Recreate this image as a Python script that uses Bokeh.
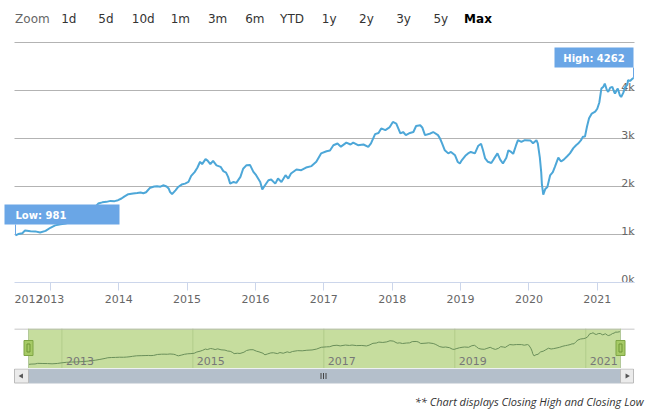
from bokeh.plotting import figure
from bokeh.models import Range1d, FixedTicker
from bokeh.layouts import column
from bokeh.embed import file_html
from bokeh.resources import INLINE
from bokeh.core.properties import value

# ---------------- data ----------------
years = [
    2012.49, 2012.53, 2012.59, 2012.63, 2012.71, 2012.78, 2012.85, 2012.93,
    2013.00, 2013.07, 2013.15, 2013.22, 2013.29, 2013.37, 2013.44, 2013.51,
    2013.58, 2013.66, 2013.70, 2013.76, 2013.82, 2013.88, 2013.94, 2013.99,
    2014.04, 2014.08, 2014.14, 2014.21, 2014.27, 2014.32, 2014.36, 2014.40,
    2014.46, 2014.52, 2014.56, 2014.61, 2014.65, 2014.70, 2014.73, 2014.75,
    2014.78, 2014.83, 2014.87, 2014.92, 2014.97, 2015.02, 2015.06, 2015.11,
    2015.15, 2015.19, 2015.22, 2015.27, 2015.30, 2015.34, 2015.38, 2015.43,
    2015.49, 2015.53, 2015.57, 2015.60, 2015.63, 2015.68, 2015.72, 2015.78,
    2015.82, 2015.87, 2015.92, 2015.97, 2016.01, 2016.07, 2016.10, 2016.14,
    2016.19, 2016.23, 2016.29, 2016.33, 2016.38, 2016.44, 2016.48, 2016.52,
    2016.60, 2016.67, 2016.74, 2016.82, 2016.89, 2016.96, 2017.04, 2017.09,
    2017.14, 2017.20, 2017.25, 2017.33, 2017.39, 2017.43, 2017.50, 2017.58,
    2017.65, 2017.69, 2017.75, 2017.80, 2017.84, 2017.90, 2017.96, 2018.01,
    2018.06, 2018.12, 2018.16, 2018.20, 2018.26, 2018.31, 2018.35, 2018.41,
    2018.44, 2018.48, 2018.56, 2018.60, 2018.67, 2018.70, 2018.73, 2018.77,
    2018.82, 2018.86, 2018.92, 2018.96, 2018.99, 2019.02, 2019.07, 2019.11,
    2019.15, 2019.21, 2019.26, 2019.30, 2019.33, 2019.36, 2019.40, 2019.45,
    2019.49, 2019.54, 2019.58, 2019.62, 2019.67, 2019.70, 2019.74, 2019.77,
    2019.81, 2019.84, 2019.89, 2019.94, 2020.02, 2020.06, 2020.11, 2020.13,
    2020.16, 2020.18, 2020.19, 2020.21, 2020.24, 2020.27, 2020.31, 2020.35,
    2020.38, 2020.43, 2020.47, 2020.51, 2020.56, 2020.60, 2020.65, 2020.69,
    2020.72, 2020.76, 2020.79, 2020.82, 2020.85, 2020.88, 2020.92, 2020.97,
    2021.00, 2021.03, 2021.06, 2021.09, 2021.11, 2021.14, 2021.16, 2021.19,
    2021.22, 2021.25, 2021.26, 2021.29, 2021.30, 2021.33, 2021.35, 2021.38,
    2021.41, 2021.44, 2021.45, 2021.48, 2021.51, 2021.53,
]
close = [
    981, 1010, 1025, 1085, 1070, 1065, 1040, 1075,
    1140, 1190, 1215, 1230, 1255, 1290, 1340, 1400,
    1480, 1580, 1645, 1670, 1680, 1700, 1695, 1715,
    1750, 1790, 1840, 1855, 1865, 1875, 1860, 1880,
    1975, 2000, 2005, 1995, 2025, 2000, 1960, 1890,
    1840, 1920, 1990, 2040, 2060, 2095, 2220, 2300,
    2390, 2515, 2465, 2570, 2540, 2465, 2535, 2440,
    2410, 2320, 2290, 2200, 2060, 2095, 2075, 2200,
    2370, 2445, 2450, 2305, 2235, 2095, 1940, 2025,
    2130, 2145, 2060, 2165, 2095, 2235, 2165, 2270,
    2355, 2340, 2395, 2425, 2515, 2690, 2735, 2750,
    2860, 2895, 2830, 2915, 2875, 2915, 2860, 2875,
    2825, 2900, 3090, 3115, 3210, 3175, 3230, 3345,
    3310, 3105, 3135, 3070, 3115, 3135, 3260, 3275,
    3230, 3070, 3105, 3135, 3070, 3000, 2900, 2755,
    2690, 2720, 2650, 2510, 2480, 2550, 2640, 2690,
    2720, 2690, 2850, 2890, 2750, 2585, 2515, 2490,
    2580, 2690, 2560, 2480, 2600, 2755, 2720, 2680,
    2850, 2965, 2930, 2965, 2960, 2900, 2965, 2900,
    2600, 2300, 2050, 1830, 1950, 1990, 2230, 2300,
    2410, 2600, 2520, 2560, 2630, 2690, 2800, 2860,
    2895, 2960, 3035, 3040, 3250, 3420, 3520, 3560,
    3620, 3750, 4040, 4080, 4145, 4010, 3970, 4060,
    4075, 3960, 3935, 4020, 4040, 3900, 3865, 3950,
    4075, 4120, 4215, 4200, 4240, 4262,
]
x_ticks = [2013, 2014, 2015, 2016, 2017, 2018, 2019, 2020, 2021]
first_year_label = "2012"
y_grid = [1000, 2000, 3000, 4000, 5000]
y_ticks = [0, 1000, 2000, 3000, 4000]
y_tick_labels = ["0k", "1k", "2k", "3k", "4k"]
nav_ticks = [2013, 2015, 2017, 2019, 2021]
range_buttons = ["1d", "5d", "10d", "1m", "3m", "6m", "YTD", "1y", "2y", "3y", "5y", "Max"]
footnote = "** Chart displays Closing High and Closing Low"

FONT = value("DejaVu Sans")
W = 649
LINE_BLUE = "#4da7d8"
FLAG_BLUE = "#6aa6e6"
NOBORDER = dict(min_border_left=0, min_border_right=0)

def base_fig(height, **kw):
    f = figure(width=W, height=height, output_backend="svg", toolbar_location=None,
               x_axis_location=None, y_axis_location=None, **kw)
    f.outline_line_color = None
    f.grid.visible = False
    f.border_fill_color = "white"
    f.background_fill_color = "white"
    return f

# ---------------- range selector strip ----------------
top = base_fig(36, x_range=Range1d(0, W), y_range=Range1d(36, 0),
               min_border_top=0, min_border_bottom=0, **NOBORDER)
top.text(x=[14.6], y=[18], text=["Zoom"], text_align="left", text_baseline="middle",
         text_font=FONT, text_font_size="12px", text_color="#666666")
btn_x = [68.3 + 37.2 * i for i in range(len(range_buttons))]
top.text(x=btn_x[:-1], y=[18] * (len(btn_x) - 1), text=range_buttons[:-1], text_align="center",
         text_baseline="middle", text_font=FONT, text_font_size="12px", text_color="#333333")
top.text(x=[btn_x[-1]], y=[18], text=[range_buttons[-1]], text_align="center",
         text_baseline="middle", text_font=FONT, text_font_size="12px", text_color="#000000",
         text_font_style="bold")

# ---------------- main chart ----------------
FR_TOP, FR_BOT = 36, 282           # page px of plot frame (top / value 0)
X_FIRST, X_LAST = 15, 633          # page px of first / last data point
ppy = (X_LAST - X_FIRST) / (years[-1] - years[0])
x_start = years[0] - X_FIRST / ppy
x_end = years[-1] + (W - X_LAST) / ppy
y_top = (FR_BOT - FR_TOP) * 1000 / 48.0

p = figure(width=W, height=280, output_backend="svg", toolbar_location=None,
           x_range=Range1d(x_start, x_end), y_range=Range1d(0, y_top),
           y_axis_location=None, min_border_top=0, min_border_bottom=34, **NOBORDER)
p.outline_line_color = None
p.grid.visible = False
p.border_fill_color = "white"
p.extra_x_ranges = {"px": Range1d(0, W)}
p.extra_y_ranges = {"px": Range1d(FR_BOT, FR_TOP)}

def px_to_val(py):
    return (FR_BOT - py) * y_top / (FR_BOT - FR_TOP)

p.segment(x0=[14] * len(y_grid), x1=[634] * len(y_grid), y0=y_grid, y1=y_grid,
          x_range_name="px", line_color="#b3b3b3", line_width=1)
p.text(x=[634] * len(y_ticks), y=y_ticks, text=y_tick_labels, x_range_name="px",
       text_align="right", text_baseline="alphabetic", y_offset=-3,
       text_font=FONT, text_font_size="11px", text_color="#666666")

p.line(years, close, line_color=LINE_BLUE, line_width=2)

# x axis: year labels (the first one justified to the plot's left edge, without a tick mark)
first_label_pos = years[0] + 13 / ppy
ax = p.xaxis[0]
ax.ticker = FixedTicker(ticks=[first_label_pos] + x_ticks, minor_ticks=x_ticks)
ax.major_label_overrides = {first_label_pos: first_year_label}
ax.bounds = (years[0] - 1 / ppy, years[-1] + 1 / ppy)
ax.axis_line_color = "#ccd6eb"
ax.major_tick_out = 0
ax.major_tick_in = 0
ax.minor_tick_line_color = "#ccd6eb"
ax.minor_tick_out = 8
ax.minor_tick_in = 0
ax.major_label_standoff = 4
ax.major_label_text_font = "DejaVu Sans"
ax.major_label_text_font_size = "11px"
ax.major_label_text_color = "#666666"

# low / high flags
i_lo = close.index(min(close))
i_hi = close.index(max(close))
p.segment(x0=[years[i_lo]], x1=[years[i_lo]], y0=[close[i_lo]], y1=[px_to_val(224)],
          line_color=FLAG_BLUE, line_width=1)
p.segment(x0=[years[i_hi]], x1=[years[i_hi]], y0=[close[i_hi]], y1=[px_to_val(67)],
          line_color=FLAG_BLUE, line_width=1)
p.quad(left=[4], right=[119], top=[204], bottom=[224], x_range_name="px", y_range_name="px",
       fill_color=FLAG_BLUE, line_color=None)
p.quad(left=[554], right=[633], top=[47], bottom=[67], x_range_name="px", y_range_name="px",
       fill_color=FLAG_BLUE, line_color=None)
p.text(x=[15], y=[214.5], text=["Low: %d" % close[i_lo]], x_range_name="px", y_range_name="px",
       text_align="left", text_baseline="middle", text_font=FONT, text_font_size="10px",
       text_font_style="bold", text_color="white")
p.text(x=[593.5], y=[57.5], text=["High: %d" % close[i_hi]], x_range_name="px", y_range_name="px",
       text_align="center", text_baseline="middle", text_font=FONT, text_font_size="10px",
       text_font_style="bold", text_color="white")

# ---------------- navigator ----------------
span = max(close) - min(close)
nav_lo = min(close) - 0.125 * span
nav_hi = max(close) + 0.094 * span
NX_FIRST, NX_LAST = 28, 620
nppy = (NX_LAST - NX_FIRST) / (years[-1] - years[0])
nav = base_fig(52, x_range=Range1d(years[0] - NX_FIRST / nppy, years[-1] + (W - NX_LAST) / nppy),
               y_range=Range1d(nav_lo, nav_hi),
               min_border_top=12, min_border_bottom=0, **NOBORDER)
nav.extra_x_ranges = {"px": Range1d(0, W)}
nav.extra_y_ranges = {"px": Range1d(368, 328)}
nav.quad(left=[years[0]], right=[years[-1]], top=[328], bottom=[368], y_range_name="px",
         fill_color="#c6dd9e", line_color=None)
nav.segment(x0=nav_ticks, x1=nav_ticks, y0=[328] * len(nav_ticks), y1=[368] * len(nav_ticks),
            y_range_name="px", line_color="#b2cc8a", line_width=1)
nav.line(years, close, line_color="#6a8f5a", line_width=1)
nav.text(x=nav_ticks, y=[360.5] * len(nav_ticks), text=[str(t) for t in nav_ticks],
         y_range_name="px", x_offset=4, text_align="left", text_baseline="middle",
         text_font=FONT, text_font_size="11px", text_color="#777777")
nav.segment(x0=[14], x1=[634], y0=[328.5], y1=[328.5], x_range_name="px", y_range_name="px",
            line_color="#b3b3b3", line_width=1)
nav.segment(x0=[years[0], years[-1]], x1=[years[0], years[-1]], y0=[328, 328], y1=[368, 368],
            y_range_name="px", line_color="#b3c99a", line_width=1)
nav.rect(x=[years[0], years[-1]], y=[347.5, 347.5], width=9, height=15, width_units="screen",
         height_units="screen", y_range_name="px", fill_color="#a6ca66", line_color="#7ea544")
nav.rect(x=[years[0], years[-1]], y=[347.5, 347.5], width=3, height=8, width_units="screen",
         height_units="screen", y_range_name="px", fill_color=None, line_color="#6f9636")

# ---------------- scrollbar ----------------
sb = base_fig(16, x_range=Range1d(0, W), y_range=Range1d(16, 0),
              min_border_top=0, min_border_bottom=0, **NOBORDER)
sb.quad(left=[28], right=[620], top=[0.5], bottom=[14.5], fill_color="#b4bfcb", line_color="#b9c2cc")
sb.quad(left=[14, 620], right=[28, 633], top=[0.5, 0.5], bottom=[14.5, 14.5],
        fill_color="#ebebeb", line_color="#bbbbbb")
sb.scatter(x=[21], y=[7.5], marker="triangle", size=5, angle=1.5708,
           fill_color="#555555", line_color=None)
sb.scatter(x=[626.5], y=[7.5], marker="triangle", size=5, angle=-1.5708,
           fill_color="#555555", line_color=None)
sb.segment(x0=[320.5, 323, 325.5], x1=[320.5, 323, 325.5], y0=[4.5] * 3, y1=[10.5] * 3,
           line_color="#444444", line_width=1)

# ---------------- footnote ----------------
ft = base_fig(26, x_range=Range1d(0, W), y_range=Range1d(26, 0),
              min_border_top=0, min_border_bottom=0, **NOBORDER)
ft.text(x=[643], y=[17], text=[footnote], text_align="right", text_baseline="middle",
        text_font=value("Open Sans"), text_font_size="11px", text_font_style="italic",
        text_color="#333333")

layout = column(top, p, nav, sb, ft, spacing=0)
open("out.html", "w").write(file_html(layout, INLINE))
